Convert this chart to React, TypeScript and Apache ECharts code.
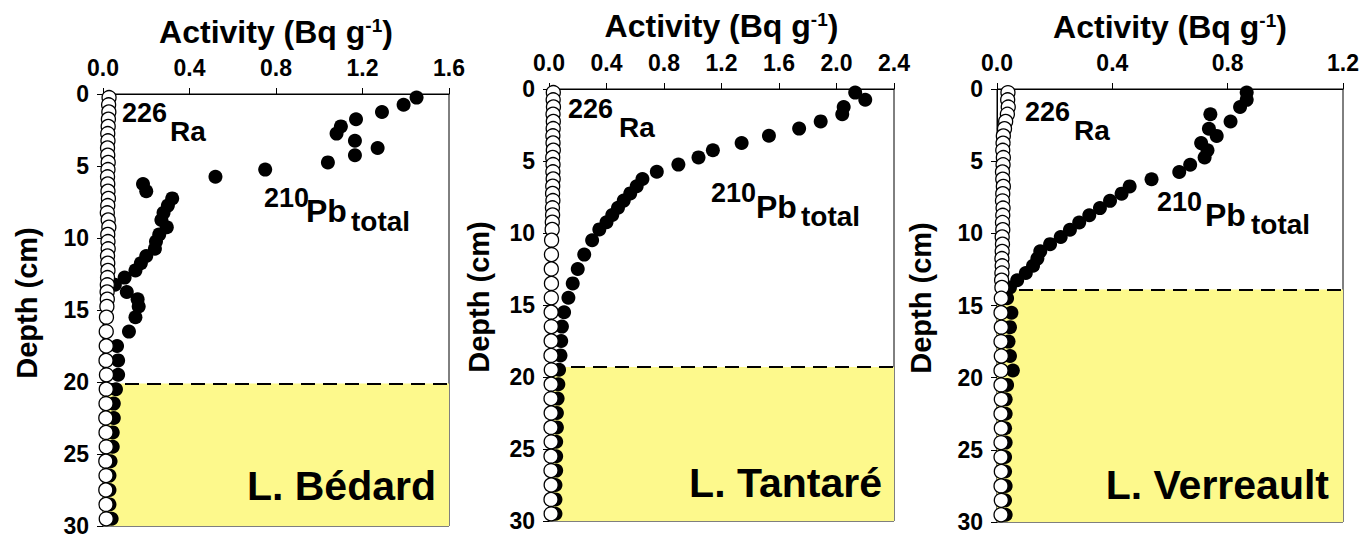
import React, { useEffect, useRef } from "react";
import * as echarts from "echarts";

// ---------- Data (depth in cm, activity in Bq g-1) ----------
// L. Bédard
const bedardRaDepth = [0.25, 0.75, 1.25, 1.75, 2.25, 2.75, 3.25, 3.75, 4.25, 4.75, 5.25, 5.75, 6.25, 6.75, 7.25, 7.75, 8.25, 8.75, 9.25, 9.75, 10.25, 10.75, 11.25, 11.75, 12.25, 12.75, 13.25, 13.75, 14.25, 14.75, 15.5, 16.5, 17.5, 18.5, 19.5, 20.5, 21.5, 22.5, 23.5, 24.5, 25.5, 26.5, 27.5, 28.5, 29.5];
const bedardRa = [0.028, 0.026, 0.027, 0.025, 0.024, 0.022, 0.023, 0.021, 0.022, 0.024, 0.023, 0.021, 0.022, 0.023, 0.025, 0.022, 0.020, 0.024, 0.027, 0.022, 0.023, 0.024, 0.021, 0.022, 0.023, 0.021, 0.020, 0.019, 0.020, 0.018, 0.016, 0.015, 0.015, 0.014, 0.016, 0.015, 0.014, 0.013, 0.014, 0.015, 0.013, 0.014, 0.013, 0.014, 0.015];
const bedardPbDepth = [0.25, 0.75, 1.25, 1.75, 2.25, 2.75, 3.25, 3.75, 4.25, 4.75, 5.25, 5.75, 6.25, 6.75, 7.25, 7.75, 8.25, 8.75, 9.25, 9.75, 10.25, 10.75, 11.25, 11.75, 12.25, 12.75, 13.25, 13.75, 14.25, 14.75, 15.5, 16.5, 17.5, 18.5, 19.5, 20.5, 21.5, 22.5, 23.5, 24.5, 25.5, 26.5, 27.5, 28.5, 29.5];
const bedardPb = [1.45, 1.39, 1.29, 1.17, 1.10, 1.08, 1.165, 1.27, 1.165, 1.04, 0.75, 0.52, 0.185, 0.20, 0.32, 0.30, 0.28, 0.27, 0.295, 0.26, 0.245, 0.24, 0.20, 0.175, 0.15, 0.10, 0.055, 0.11, 0.16, 0.165, 0.15, 0.12, 0.065, 0.07, 0.07, 0.06, 0.05, 0.05, 0.045, 0.045, 0.035, 0.03, 0.03, 0.03, 0.04];
const bedardBoundary = 20.1;

// L. Tantaré
const tantareRaDepth = [0.25, 0.75, 1.25, 1.75, 2.25, 2.75, 3.25, 3.75, 4.25, 4.75, 5.25, 5.75, 6.25, 6.75, 7.25, 7.75, 8.25, 8.75, 9.25, 9.75, 10.5, 11.5, 12.5, 13.5, 14.5, 15.5, 16.5, 17.5, 18.5, 19.5, 20.5, 21.5, 22.5, 23.5, 24.5, 25.5, 26.5, 27.5, 28.5, 29.5];
const tantareRa = [0.030, 0.029, 0.031, 0.028, 0.030, 0.029, 0.027, 0.028, 0.030, 0.026, 0.028, 0.027, 0.029, 0.026, 0.025, 0.027, 0.024, 0.025, 0.023, 0.022, 0.018, 0.017, 0.016, 0.017, 0.016, 0.015, 0.016, 0.015, 0.014, 0.016, 0.015, 0.014, 0.015, 0.014, 0.015, 0.014, 0.014, 0.015, 0.014, 0.015];
const tantarePbDepth = [0.25, 0.75, 1.25, 1.75, 2.25, 2.75, 3.25, 3.75, 4.25, 4.75, 5.25, 5.75, 6.25, 6.75, 7.25, 7.75, 8.25, 8.75, 9.25, 9.75, 10.5, 11.5, 12.5, 13.5, 14.5, 15.5, 16.5, 17.5, 18.5, 19.5, 20.5, 21.5, 22.5, 23.5, 24.5, 25.5, 26.5, 27.5, 28.5, 29.5];
const tantarePb = [2.13, 2.20, 2.05, 2.04, 1.89, 1.74, 1.53, 1.34, 1.14, 1.04, 0.90, 0.75, 0.65, 0.61, 0.565, 0.52, 0.48, 0.44, 0.40, 0.35, 0.30, 0.245, 0.20, 0.165, 0.135, 0.105, 0.09, 0.085, 0.08, 0.07, 0.065, 0.06, 0.055, 0.055, 0.05, 0.05, 0.05, 0.045, 0.045, 0.045];
const tantareBoundary = 19.3;

// L. Verreault
const verreaultRaDepth = [0.25, 0.75, 1.25, 1.75, 2.25, 2.75, 3.25, 3.75, 4.25, 4.75, 5.25, 5.75, 6.25, 6.75, 7.25, 7.75, 8.25, 8.75, 9.25, 9.75, 10.25, 10.75, 11.25, 11.75, 12.25, 12.75, 13.25, 13.75, 14.5, 15.5, 16.5, 17.5, 18.5, 19.5, 20.5, 21.5, 22.5, 23.5, 24.5, 25.5, 26.5, 27.5, 28.5, 29.5];
const verreaultRa = [0.038, 0.037, 0.039, 0.036, 0.030, 0.026, 0.022, 0.021, 0.020, 0.022, 0.021, 0.019, 0.020, 0.022, 0.020, 0.019, 0.021, 0.020, 0.019, 0.020, 0.018, 0.019, 0.018, 0.017, 0.018, 0.017, 0.016, 0.017, 0.015, 0.014, 0.015, 0.014, 0.015, 0.014, 0.014, 0.015, 0.014, 0.015, 0.014, 0.014, 0.015, 0.014, 0.015, 0.014];
const verreaultPbDepth = [0.25, 0.75, 1.25, 1.75, 2.25, 2.75, 3.25, 3.75, 4.25, 4.75, 5.25, 5.75, 6.25, 6.75, 7.25, 7.75, 8.25, 8.75, 9.25, 9.75, 10.25, 10.75, 11.25, 11.75, 12.25, 12.75, 13.25, 13.75, 14.5, 15.5, 16.5, 17.5, 18.5, 19.5, 20.5, 21.5, 22.5, 23.5, 24.5, 25.5, 26.5, 27.5, 28.5, 29.5];
const verreaultPb = [0.866, 0.866, 0.843, 0.74, 0.81, 0.735, 0.762, 0.708, 0.73, 0.72, 0.67, 0.632, 0.536, 0.46, 0.432, 0.392, 0.357, 0.32, 0.285, 0.253, 0.221, 0.184, 0.15, 0.14, 0.125, 0.10, 0.07, 0.045, 0.035, 0.05, 0.045, 0.04, 0.045, 0.055, 0.035, 0.03, 0.03, 0.028, 0.03, 0.028, 0.028, 0.03, 0.028, 0.03];
const verreaultBoundary = 13.9;

// Axis ticks
const xMaxes = [1.6, 2.4, 1.2];
const xInterval = 0.4;
const depthMax = 30;
const depthInterval = 5;
const lakeNames = ["L. Bédard", "L. Tantaré", "L. Verreault"];

const FONT = '"Liberation Sans", Arial, Helvetica, sans-serif';

// layout (pixels)
const grids = [
  { left: 103, top: 94, width: 346, height: 432 },
  { left: 549, top: 89, width: 345, height: 432 },
  { left: 997, top: 89, width: 346, height: 433 },
];
const titleY = [32, 26, 27];
const depthNamePos = [[27, 303], [479, 297], [921, 298]];
const lakePos = [[436, 486], [882, 483], [1329, 485]];
// [text, fontSize, left, centerY]
const annotations: [string, number, number, number][][] = [
  [["226", 27, 122, 113], ["Ra", 28, 170, 131], ["210", 27, 264, 198], ["Pb", 32, 306, 211], ["total", 28, 351, 221]],
  [["226", 27, 568, 109], ["Ra", 28, 619, 127], ["210", 27, 711, 193], ["Pb", 32, 756, 207], ["total", 28, 801, 216]],
  [["226", 27, 1025, 112], ["Ra", 28, 1074, 130], ["210", 27, 1157, 202], ["Pb", 32, 1205, 215], ["total", 28, 1251, 224]],
];

const panels = [
  { raDepth: bedardRaDepth, ra: bedardRa, pbDepth: bedardPbDepth, pb: bedardPb, boundary: bedardBoundary },
  { raDepth: tantareRaDepth, ra: tantareRa, pbDepth: tantarePbDepth, pb: tantarePb, boundary: tantareBoundary },
  { raDepth: verreaultRaDepth, ra: verreaultRa, pbDepth: verreaultPbDepth, pb: verreaultPb, boundary: verreaultBoundary },
];

export default function App() {
  const ref = useRef<HTMLDivElement>(null);

  useEffect(() => {
    if (!ref.current) return;
    const chart = echarts.init(ref.current, null, { renderer: "svg" });

    const labelStyle = {
      fontSize: 23,
      fontWeight: "bold" as const,
      fontFamily: FONT,
      color: "#000",
    };
    const lineStyle = { color: "#000", width: 1 };

    const xAxis = panels.map((_, i) => ({
      gridIndex: i,
      type: "value" as const,
      position: "top" as const,
      min: 0,
      max: xMaxes[i],
      interval: xInterval,
      axisLine: { show: true, lineStyle },
      axisTick: { show: true, inside: false, length: 6, lineStyle },
      axisLabel: { ...labelStyle, margin: 15, formatter: (v: number) => v.toFixed(1) },
      splitLine: { show: false },
    }));

    const yAxis = panels.map((_, i) => ({
      gridIndex: i,
      type: "value" as const,
      inverse: true,
      min: 0,
      max: depthMax,
      interval: depthInterval,
      axisLine: { show: true, lineStyle },
      axisTick: { show: true, inside: false, length: 6, lineStyle },
      axisLabel: { ...labelStyle, margin: 14 },
      splitLine: { show: false },
    }));

    const series: any[] = [];
    panels.forEach((p, i) => {
      series.push({
        type: "scatter",
        xAxisIndex: i,
        yAxisIndex: i,
        data: p.pbDepth.map((d, k) => [p.pb[k], d]),
        symbol: "circle",
        symbolSize: 14,
        itemStyle: { color: "#000", opacity: 1 },
        z: 3,
        silent: true,
        clip: false,
        markArea: {
          silent: true,
          z: 1,
          itemStyle: { color: "#fdf98c", opacity: 1 },
          data: [[{ yAxis: p.boundary }, { yAxis: depthMax }]],
        },
        markLine: {
          silent: true,
          z: 2,
          symbol: ["none", "none"],
          label: { show: false },
          lineStyle: { color: "#000", width: 2, type: [14, 8], opacity: 1 },
          data: [{ yAxis: p.boundary }],
        },
      });
      series.push({
        type: "scatter",
        xAxisIndex: i,
        yAxisIndex: i,
        data: p.raDepth.map((d, k) => [p.ra[k], d]),
        symbol: "circle",
        symbolSize: 14,
        itemStyle: { color: "#fff", borderColor: "#000", borderWidth: 1.3, opacity: 1 },
        z: 4,
        silent: true,
        clip: false,
      });
    });

    const graphic: any[] = [];
    grids.forEach((g, i) => {
      graphic.push({
        type: "text",
        x: g.left + g.width / 2,
        y: titleY[i],
        silent: true,
        style: {
          text: "Activity (Bq g{sup|-1})",
          fontSize: 32,
          fontWeight: "bold",
          fontFamily: FONT,
          fill: "#000",
          textAlign: "center",
          textVerticalAlign: "middle",
          rich: {
            sup: { fontSize: 19, fontWeight: "bold", fontFamily: FONT, fill: "#000", verticalAlign: "top", lineHeight: 19 },
          },
        },
      });
      graphic.push({
        type: "text",
        x: depthNamePos[i][0],
        y: depthNamePos[i][1],
        rotation: Math.PI / 2,
        silent: true,
        style: {
          text: "Depth (cm)",
          fontSize: 29,
          fontWeight: "bold",
          fontFamily: FONT,
          fill: "#000",
          textAlign: "center",
          textVerticalAlign: "middle",
        },
      });
      graphic.push({
        type: "text",
        x: lakePos[i][0],
        y: lakePos[i][1],
        silent: true,
        z: 10,
        style: {
          text: lakeNames[i],
          fontSize: 41,
          fontWeight: "bold",
          fontFamily: FONT,
          fill: "#000",
          textAlign: "right",
          textVerticalAlign: "middle",
        },
      });
      annotations[i].forEach(([t, fs, x, y]) => {
        graphic.push({
          type: "text",
          x,
          y,
          silent: true,
          z: 10,
          style: {
            text: t,
            fontSize: fs,
            fontWeight: "bold",
            fontFamily: FONT,
            fill: "#000",
            textAlign: "left",
            textVerticalAlign: "middle",
          },
        });
      });
    });

    chart.setOption({
      animation: false,
      backgroundColor: "#fff",
      grid: grids.map((g) => ({
        ...g,
        show: true,
        borderColor: "#000",
        borderWidth: 1,
        backgroundColor: "transparent",
        containLabel: false,
      })),
      xAxis,
      yAxis,
      series,
      graphic,
    });

    return () => chart.dispose();
  }, []);

  return (
    <div
      ref={ref}
      style={{ position: "fixed", left: 0, top: 0, width: 1367, height: 538, background: "#fff" }}
    />
  );
}
